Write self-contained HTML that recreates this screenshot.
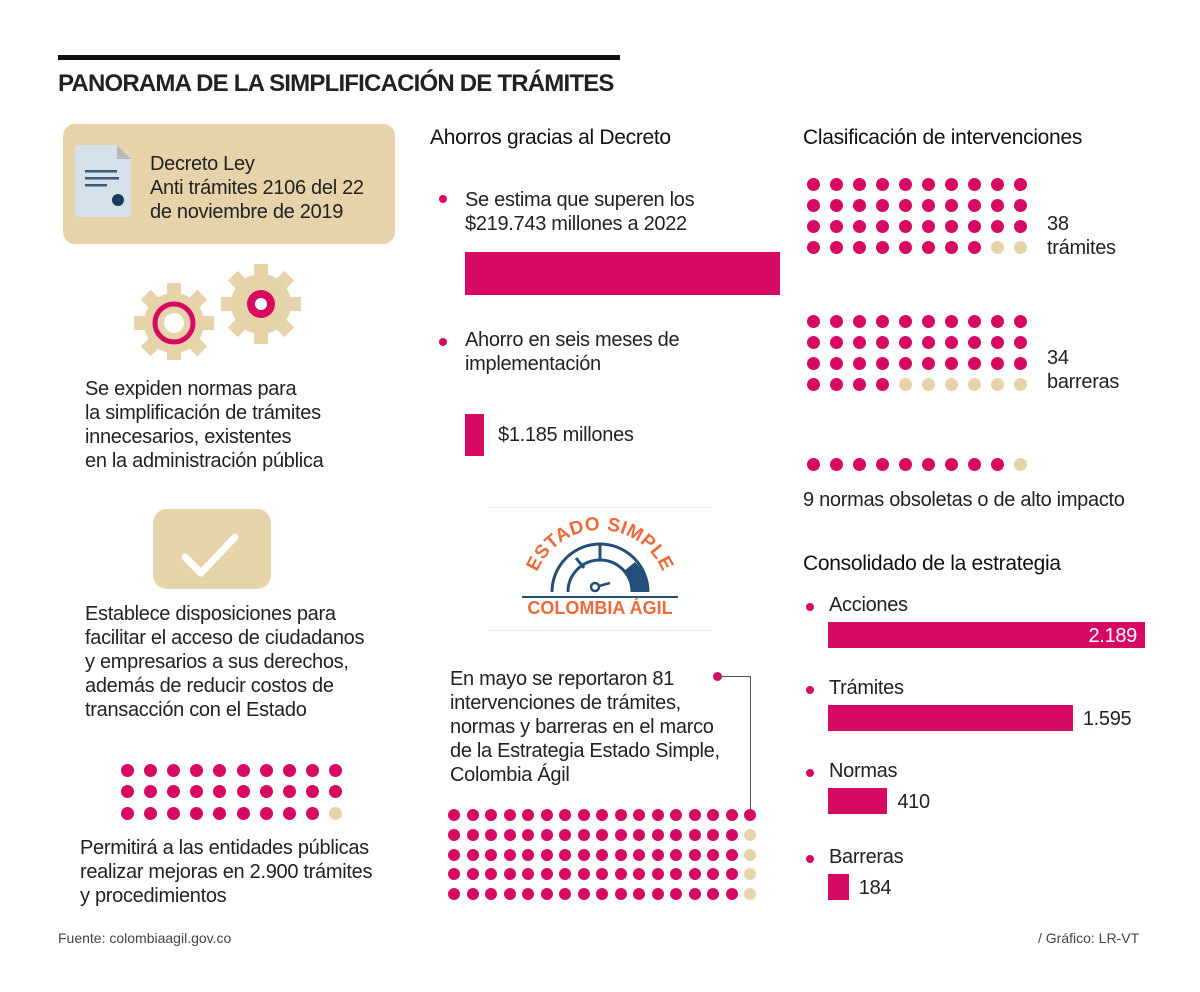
<!DOCTYPE html>
<html><head><meta charset="utf-8"><style>
body{margin:0;background:#fff;}
#root{position:relative;width:1200px;height:992px;overflow:hidden;font-family:"Liberation Sans",sans-serif;color:#222;}
.t{position:absolute;font-size:20px;line-height:24px;white-space:nowrap;color:#222;letter-spacing:-0.3px}
.h{position:absolute;font-size:21px;white-space:nowrap;color:#111;letter-spacing:-0.3px}
.bar{position:absolute;background:#d60a62}
.dot{position:absolute;width:10px;height:10px;border-radius:50%;background:#d60a62}
</style></head><body>
<div id="root">
<div style="position:absolute;left:58px;top:55px;width:562px;height:5px;background:#111"></div>
<div style="position:absolute;left:58px;top:70px;font-size:24px;font-weight:bold;letter-spacing:-0.8px">PANORAMA DE LA SIMPLIFICACIÓN DE TRÁMITES</div>

<div style="position:absolute;left:63px;top:124px;width:332px;height:120px;background:#e6d3a9;border-radius:12px"></div>
<svg style="position:absolute;left:75px;top:145px" width="56" height="72">
<path d="M4 0H42L56 14V68a4 4 0 0 1-4 4H4a4 4 0 0 1-4-4V4a4 4 0 0 1 4-4z" fill="#d6e0ea"/><path d="M42 0V14H56z" fill="#b8b8b8"/>
<rect x="10" y="25" width="32" height="2.5" fill="#3c5a7a"/><rect x="10" y="32" width="34" height="2.5" fill="#3c5a7a"/><rect x="10" y="39" width="22" height="2.5" fill="#3c5a7a"/>
<circle cx="43" cy="55" r="6" fill="#1e3c5a"/></svg>
<div class="t" style="left:150px;top:152px">Decreto Ley<br>Anti trámites 2106 del 22<br>de noviembre de 2019</div>

<svg style="position:absolute;left:130px;top:260px" width="180" height="100">
<g fill="#e6d3a9">
<circle cx="44" cy="63" r="30"/><g transform="translate(44 63)"><rect x="-7" y="-40" width="14" height="80"/><rect x="-40" y="-7" width="80" height="14"/><rect x="-7" y="-40" width="14" height="80" transform="rotate(45)"/><rect x="-7" y="-40" width="14" height="80" transform="rotate(-45)"/></g>
<circle cx="131" cy="44" r="30"/><g transform="translate(131 44)"><rect x="-7" y="-40" width="14" height="80"/><rect x="-40" y="-7" width="80" height="14"/><rect x="-7" y="-40" width="14" height="80" transform="rotate(45)"/><rect x="-7" y="-40" width="14" height="80" transform="rotate(-45)"/></g>
</g>
<circle cx="44" cy="63" r="19" fill="none" stroke="#d60a62" stroke-width="5"/><circle cx="44" cy="63" r="10" fill="#fff"/>
<circle cx="131" cy="44" r="14" fill="#d60a62"/><circle cx="131" cy="44" r="6" fill="#fff"/></svg>
<div class="t" style="left:85px;top:377px">Se expiden normas para<br>la simplificación de trámites<br>innecesarios, existentes<br>en la administración pública</div>

<div style="position:absolute;left:153px;top:509px;width:118px;height:80px;background:#e6d3a9;border-radius:14px"></div>
<svg style="position:absolute;left:153px;top:509px" width="118" height="80"><path d="M32 48L48 64L82 28" fill="none" stroke="#fff" stroke-width="7" stroke-linecap="round" stroke-linejoin="round"/></svg>
<div class="t" style="left:85px;top:602px">Establece disposiciones para<br>facilitar el acceso de ciudadanos<br>y empresarios a sus derechos,<br>además de reducir costos de<br>transacción con el Estado</div>
<div class="t" style="left:80px;top:836px">Permitirá a las entidades públicas<br>realizar mejoras en 2.900 trámites<br>y procedimientos</div>
<div style="position:absolute;left:58px;top:930px;font-size:14px;color:#444">Fuente: colombiaagil.gov.co</div>
<div style="position:absolute;left:1038px;top:930px;font-size:14px;color:#444">/ Gráfico: LR-VT</div>

<div class="h" style="left:430px;top:126px">Ahorros gracias al Decreto</div>
<div class="dot" style="left:439px;top:195px;width:8px;height:8px"></div>
<div class="t" style="left:465px;top:188px">Se estima que superen los<br>$219.743 millones a 2022</div>
<div class="bar" style="left:465px;top:252px;width:315px;height:43px"></div>
<div class="dot" style="left:439px;top:338px;width:8px;height:8px"></div>
<div class="t" style="left:465px;top:328px">Ahorro en seis meses de<br>implementación</div>
<div class="bar" style="left:465px;top:414px;width:19px;height:42px"></div>
<div class="t" style="left:498px;top:423px">$1.185 millones</div>

<div style="position:absolute;left:488px;top:507px;width:224px;height:1px;background:#eee"></div>
<div style="position:absolute;left:488px;top:630px;width:224px;height:1px;background:#eee"></div>
<svg style="position:absolute;left:510px;top:510px" width="180" height="110">
<defs><path id="arc" d="M22 88 A68 68 0 0 1 158 88"/></defs>
<text font-family="Liberation Sans" font-weight="bold" font-size="19" fill="#ef6a3a" letter-spacing="0.5"><textPath href="#arc" startOffset="50%" text-anchor="middle">ESTADO SIMPLE</textPath></text>
<path d="M42 82 A48 48 0 0 1 138 82" fill="none" stroke="#22507a" stroke-width="3"/>
<path d="M58 82 A32 32 0 0 1 122 82" fill="none" stroke="#22507a" stroke-width="3"/>
<path d="M125 52 A48 48 0 0 1 138 82 L122 82 A32 32 0 0 0 114 61z" fill="#22507a"/>
<line x1="66" y1="48" x2="74" y2="58" stroke="#22507a" stroke-width="3"/><line x1="90" y1="34" x2="90" y2="50" stroke="#22507a" stroke-width="3"/>
<circle cx="85" cy="77" r="4" fill="none" stroke="#22507a" stroke-width="2.5"/><line x1="89" y1="76" x2="100" y2="73" stroke="#22507a" stroke-width="2.5"/>
<line x1="12" y1="87" x2="168" y2="87" stroke="#22507a" stroke-width="2"/>
<text x="90" y="104" text-anchor="middle" font-family="Liberation Sans" font-weight="bold" font-size="18" fill="#ef6a3a">COLOMBIA ÁGIL</text></svg>

<div class="t" style="left:450px;top:667px">En mayo se reportaron 81<br>intervenciones de trámites,<br>normas y barreras en el marco<br>de la Estrategia Estado Simple,<br>Colombia Ágil</div>
<div class="dot" style="left:713px;top:672px;width:9px;height:9px"></div>
<div style="position:absolute;left:720px;top:676px;width:30px;height:1px;background:#555"></div>
<div style="position:absolute;left:750px;top:676px;width:1px;height:134px;background:#555"></div>

<div class="h" style="left:803px;top:126px">Clasificación de intervenciones</div>
<div class="t" style="left:1047px;top:212px">38<br>trámites</div>
<div class="t" style="left:1047px;top:346px">34<br>barreras</div>
<div class="t" style="left:803px;top:488px">9 normas obsoletas o de alto impacto</div>

<div class="h" style="left:803px;top:552px">Consolidado de la estrategia</div>
</div>
<script>
const leftTotal=[29,30];
const bottomCounts=[81,85];
const classCounts=[38,34,9];
const classSlots=[40,40,10];
const barCats=["Acciones","Trámites","Normas","Barreras"];
const barVals=[2189,1595,410,184];
const barLabels=["2.189","1.595","410","184"];
const PINK="#d60a62",BEIGE="#e6d3a9";
const root=document.getElementById('root');
function dot(x,y,d,c,name){const e=document.createElement('div');e.className='dot';


e.style.cssText=`left:${x-d/2}px;top:${y-d/2}px;width:${d}px;height:${d}px;background:${c}`;root.appendChild(e);}
for(let i=0;i<leftTotal[1];i++){const c=i%10,r=Math.floor(i/10);dot(127+c*23.2,770+r*21.5,13,i<leftTotal[0]?PINK:BEIGE,'left-dot');}
for(let r=0;r<5;r++)for(let c=0;c<17;c++){const idx=c<16?r*16+c:80+r;dot(454+c*18.5,815+r*19.8,12,idx<bottomCounts[0]?PINK:BEIGE,'bottom-dot');}
const tops=[184,321,464];
classCounts.forEach((n,g)=>{for(let i=0;i<classSlots[g];i++){const c=i%10,r=Math.floor(i/10);dot(813+c*23,tops[g]+r*21.3,13,i<n?PINK:BEIGE,'class-dot');}});
const bx=828,bw=317,maxV=barVals[0],bTops=[622,705,788,874];
function xw(v){return v/maxV*bw;}
barCats.forEach((cat,i)=>{
 const w=Math.max(18,xw(barVals[i])*(i==1?1.06:1)*(i==3?0.78:1));
 const d=document.createElement('div');d.className='dot';d.style.cssText=`left:${806}px;top:${bTops[i]-19}px;width:8px;height:8px`;root.appendChild(d);
 const l=document.createElement('div');l.className='t';l.textContent=cat;l.style.left='829px';l.style.top=(bTops[i]-29)+'px';
 
 
 root.appendChild(l);
 const b=document.createElement('div');b.className='bar';b.style.cssText=`left:${bx}px;top:${bTops[i]}px;width:${w}px;height:26px`;
 
 
 root.appendChild(b);
 const v=document.createElement('div');v.className='t';v.textContent=barLabels[i];
 
 
 if(i==0){v.style.color='#fff';v.style.right=(1200-bx-w+8)+'px';}else v.style.left=(bx+w+10)+'px';
 v.style.top=(bTops[i]+2)+'px';root.appendChild(v);
});
</script>
</body></html>
